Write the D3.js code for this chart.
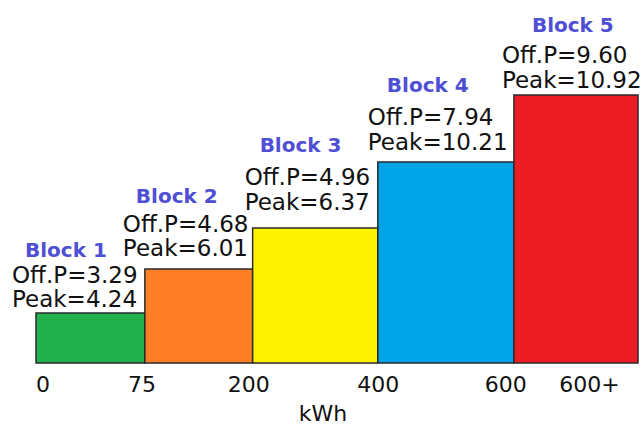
<!DOCTYPE html>
<html>
<head>
  <script src="https://d3js.org/d3.v7.min.js"></script>
  <style>
    html, body {
      margin: 0px;
      padding: 0px;
      background: #fff;
      font-family: "DejaVu Sans", sans-serif;
    }

    .valueLabel {
      font-size: 23px;
      fill: #111;
    }

    .blockLabel {
      font-size: 20px;
      font-weight: bold;
      fill: #4f4fd4;
    }

    .axis text {
      font-size: 22px;
      fill: #111;
      font-family: "DejaVu Sans", sans-serif;
    }

    .axisLabel {
      font-size: 22px;
      fill: #111;
    }
  </style>
</head>
<body>
  <div id="chart"></div>
  <script>

      /*
      DATA
      */
      const blocks = ["Block 1", "Block 2", "Block 3", "Block 4", "Block 5"];
      const offPeak = ["3.29", "4.68", "4.96", "7.94", "9.60"];
      const peak = ["4.24", "6.01", "6.37", "10.21", "10.92"];
      // step height of each bar (illustrative units)
      const barLevel = [50, 94, 135, 201, 268];
      // relative width of each block along the x axis
      const blockWidth = [1.0, 0.99, 1.15, 1.25, 1.14];
      const colors = ["#22b14c", "#ff7f27", "#fff200", "#00a2e8", "#ed1c24"];

      const tickPos = [0.06, 0.97, 1.95, 3.14, 4.31, 5.08];
      const tickLabels = ["0", "75", "200", "400", "600", "600+"];

      // label placement relative to each bar (left edge / top)
      const labelLayout = [
        {dx: -24, bdx: -11, peakLift: 6,  offLift: 30, blockLift: 56},
        {dx: -22, bdx: -9,  peakLift: 13, offLift: 37, blockLift: 66},
        {dx: -8,  bdx: 7,   peakLift: 18, offLift: 43, blockLift: 76},
        {dx: -10, bdx: 9,   peakLift: 12, offLift: 37, blockLift: 70},
        {dx: -12, bdx: 18,  peakLift: 7,  offLift: 32, blockLift: 63}
      ];

      /*
      CANVAS
      */
      const width = 642;
      const height = 427;
      const margin = {top: 63, left: 36, right: 4, bottom: 64};

      const svg = d3.select("#chart")
        .append("svg")
        .attr("width", width)
        .attr("height", height);

      // cumulative edges of the blocks
      const edges = [0];
      blockWidth.forEach(function(w, i) { edges.push(edges[i] + w); });

      const data = blocks.map(function(b, i) {
        return {
          name: b, off: offPeak[i], peak: peak[i], level: barLevel[i],
          x0: edges[i], x1: edges[i + 1], color: colors[i], lay: labelLayout[i]
        };
      });

      /*
      SCALES
      */
      const xScale = d3.scaleLinear()
        .domain([0, edges[edges.length - 1]])
        .range([margin.left, width - margin.right]);

      const yScale = d3.scaleLinear()
        .domain([0, 300])
        .range([height - margin.bottom, height - margin.bottom - 300]);

      /*
      BARS
      */
      svg.selectAll("rect.bar")
        .data(data)
        .enter()
        .append("rect")
          .attr("class", "bar")
          .attr("x", function(d) { return xScale(d.x0); })
          .attr("y", function(d) { return yScale(d.level); })
          .attr("width", function(d) { return xScale(d.x1) - xScale(d.x0); })
          .attr("height", function(d) { return yScale(0) - yScale(d.level); })
          .attr("fill", function(d) { return d.color; })
          .attr("stroke", "#2a2a2a")
          .attr("stroke-width", 1.5);

      /*
      LABELS
      */
      const labels = svg.selectAll("g.label")
        .data(data)
        .enter()
        .append("g")
          .attr("class", "label");

      labels.append("text")
        .attr("class", "blockLabel")
        .attr("x", function(d) { return xScale(d.x0) + d.lay.bdx; })
        .attr("y", function(d) { return yScale(d.level) - d.lay.blockLift; })
        .text(function(d) { return d.name; });

      labels.append("text")
        .attr("class", "valueLabel")
        .attr("x", function(d) { return xScale(d.x0) + d.lay.dx; })
        .attr("y", function(d) { return yScale(d.level) - d.lay.offLift; })
        .text(function(d) { return "Off.P=" + d.off; });

      labels.append("text")
        .attr("class", "valueLabel")
        .attr("x", function(d) { return xScale(d.x0) + d.lay.dx; })
        .attr("y", function(d) { return yScale(d.level) - d.lay.peakLift; })
        .text(function(d) { return "Peak=" + d.peak; });

      /*
      AXIS
      */
      const xAxis = svg.append("g")
        .attr("class", "axis")
        .attr("transform", `translate(0,${yScale(0)})`)
        .call(d3.axisBottom(xScale)
          .tickValues(tickPos)
          .tickFormat(function(d, i) { return tickLabels[i]; })
          .tickSize(0)
          .tickPadding(13));

      xAxis.select(".domain").remove();

      svg.append("text")
        .attr("class", "axisLabel")
        .attr("x", 323)
        .attr("y", 421)
        .attr("text-anchor", "middle")
        .text("kWh");

  </script>
</body>
</html>
